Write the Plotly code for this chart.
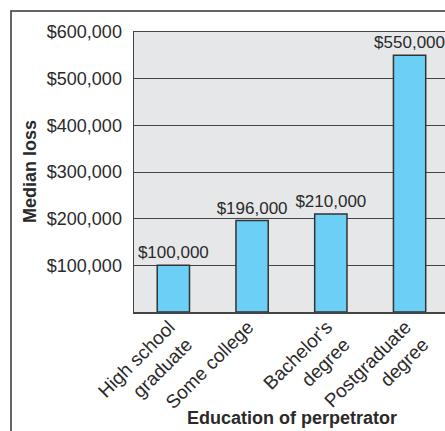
import plotly.graph_objects as go

categories = ["High school<br>graduate", "Some college", "Bachelor's<br>degree", "Postgraduate<br>degree"]
median_loss = [100000, 196000, 210000, 550000]
bar_labels = ["$100,000", "$196,000", "$210,000", "$550,000"]
y_ticks = [100000, 200000, 300000, 400000, 500000, 600000]
y_tick_labels = ["$100,000", "$200,000", "$300,000", "$400,000", "$500,000", "$600,000"]

FONT = "Liberation Sans, Arial, sans-serif"
DARK = "#2a2a2a"

fig = go.Figure()
fig.add_trace(go.Bar(
    x=list(range(len(categories))),
    y=median_loss,
    text=bar_labels,
    textposition="outside",
    constraintext="none",
    textfont=dict(family=FONT, size=17, color=DARK),
    cliponaxis=False,
    width=0.41,
    hoverinfo="skip",
    marker=dict(color="#6CCFF6", line=dict(color="#333333", width=1.5)),
))

W, H = 445, 431
L, R, T = 134, 0, 32
ph = 280
B = H - T - ph
pw = W - L - R

fig.update_layout(
    width=W, height=H,
    margin=dict(l=L, r=R, t=T, b=B, pad=0, autoexpand=False),
    paper_bgcolor="white",
    plot_bgcolor="#E6E7E8",
    showlegend=False,
    font=dict(family=FONT, color=DARK),
    xaxis=dict(
        range=[-0.5, 3.45],
        automargin=False,
        tickmode="array",
        tickvals=list(range(len(categories))),
        ticktext=categories,
        tickangle=-45,
        ticklabelshift=-4,
        ticklabelstandoff=-5,
        tickfont=dict(family=FONT, size=19, color=DARK),
        showgrid=False,
        showline=True, linecolor="#444444", linewidth=1.5, mirror=True,
        ticks="",
    ),
    yaxis=dict(
        range=[0, 600000],
        automargin=False,
        tickmode="array",
        tickvals=y_ticks,
        ticktext=y_tick_labels,
        tickfont=dict(family=FONT, size=18, color=DARK),
        showgrid=True, gridcolor="#444444", gridwidth=1,
        zeroline=False,
        showline=True, linecolor="#444444", linewidth=1.5, mirror=True,
        ticks="outside", ticklen=7, tickcolor="rgba(0,0,0,0)",
    ),
    annotations=[
        dict(text="<b>Education of perpetrator</b>", xref="paper", yref="paper",
             x=(291.5 - L) / pw, y=(312 - 418) / ph, xanchor="center", yanchor="middle",
             showarrow=False, font=dict(family=FONT, size=18, color=DARK)),
        dict(text="<b>Median loss</b>", xref="paper", yref="paper",
             x=(30 - L) / pw, y=0.5, xanchor="center", yanchor="middle", textangle=-90,
             showarrow=False, font=dict(family=FONT, size=18, color=DARK)),
    ],
    shapes=[dict(
        type="rect", xref="paper", yref="paper",
        x0=(11 - L) / pw, x1=1.2,
        y0=-0.8, y1=1 + 21 / ph,
        line=dict(color="#333333", width=1.5),
        fillcolor="rgba(0,0,0,0)", layer="below",
    )],
)

fig.write_html(
    "out.html",
    config={"displayModeBar": False, "staticPlot": True},
    post_script="document.body.style.margin='0';document.body.style.overflow='hidden';",
)
